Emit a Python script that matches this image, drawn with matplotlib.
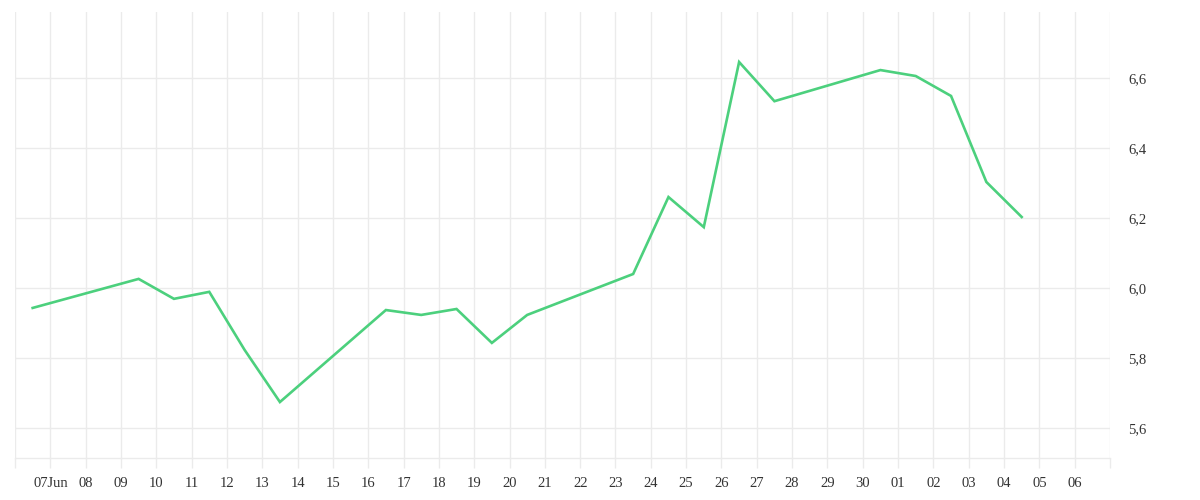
import matplotlib
matplotlib.use("Agg")
import matplotlib.pyplot as plt
import matplotlib.dates as mdates
import matplotlib.ticker as mticker
import pandas as pd

# values (points sit at midday)
dates = ["2023-06-06", "2023-06-09", "2023-06-10", "2023-06-11", "2023-06-12",
         "2023-06-13", "2023-06-16", "2023-06-17", "2023-06-18", "2023-06-19",
         "2023-06-20", "2023-06-23", "2023-06-24", "2023-06-25", "2023-06-26",
         "2023-06-27", "2023-06-30", "2023-07-01", "2023-07-02", "2023-07-03",
         "2023-07-04"]
values = [5.943, 6.026, 5.969, 5.989, 5.823,
          5.674, 5.937, 5.923, 5.940, 5.843,
          5.923, 6.040, 6.260, 6.174, 6.646,
          6.534, 6.623, 6.606, 6.549, 6.303,
          6.203]
y_ticks = [5.6, 5.8, 6.0, 6.2, 6.4, 6.6]

GRID = "#ebebeb"
LINE = "#4cd07d"
TEXT = "#333333"

x = pd.to_datetime(dates) + pd.Timedelta(hours=12)
start = pd.Timestamp("2023-06-06")
end = pd.Timestamp("2023-07-07")

fig = plt.figure(figsize=(12, 5), dpi=100)
ax = fig.add_axes([0.0125, 0.084, 0.9125, 0.892])
ax.plot(x, values, color=LINE, linewidth=1.9, solid_joinstyle="miter")

ax.set_xlim(start, end)
ax.set_ylim(5.514, 6.789)

day_ticks = pd.date_range(start, end, freq="D")
ax.set_xticks(day_ticks)


def fmt_day(v, pos):
    d = mdates.num2date(v).replace(tzinfo=None)
    d = pd.Timestamp(d).normalize()
    if d == start or d == end:
        return ""
    if d == pd.Timestamp("2023-06-07"):
        return "07Jun"
    return d.strftime("%d")


ax.xaxis.set_major_formatter(mticker.FuncFormatter(fmt_day))
ax.set_yticks(y_ticks)
ax.yaxis.set_major_formatter(mticker.FuncFormatter(lambda v, p: f"{v:.1f}".replace(".", ",")))
ax.yaxis.tick_right()

ax.grid(True, color=GRID, linewidth=1)
ax.set_axisbelow(True)
for side in ["left", "right", "top"]:
    ax.spines[side].set_visible(False)
ax.spines["bottom"].set_color(GRID)
ax.spines["bottom"].set_linewidth(1)

ax.tick_params(axis="x", length=7.5, color=GRID, width=1, pad=6,
               labelsize=10.5, labelcolor=TEXT)
ax.tick_params(axis="y", length=0, pad=13, labelsize=10.5, labelcolor=TEXT)
for lab in ax.get_xticklabels() + ax.get_yticklabels():
    lab.set_fontfamily("Liberation Serif")

fig.savefig("out.png", dpi=100)
plt.close(fig)
